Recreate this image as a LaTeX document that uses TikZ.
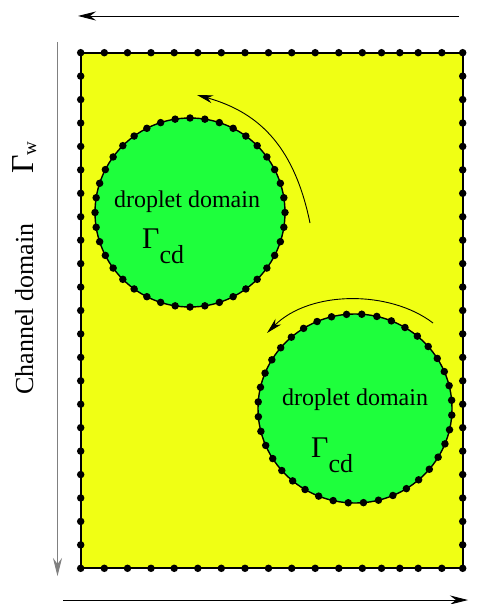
\documentclass[tikz,border=0pt]{standalone}
\usepackage{fontspec}
\setmainfont{Liberation Serif}
\usetikzlibrary{arrows.meta}
\definecolor{chanyellow}{RGB}{240,255,20}
\definecolor{dropgreen}{RGB}{30,255,60}
\definecolor{axisgray}{RGB}{128,128,128}
\tikzset{
  bdot/.style={fill=black,circle,inner sep=0pt,minimum size=7.5pt},
  flowarrow/.style={line width=0.9pt,-{Stealth[length=18pt,width=9pt,inset=6pt]}},
  swirl/.style={line width=0.9pt,-{Stealth[length=16pt,width=8pt,inset=5pt]}},
  lbl/.style={inner sep=0pt,font=\fontsize{24}{24}\selectfont},
}
\begin{document}
\begin{tikzpicture}[x=1pt,y=-1pt]
\useasboundingbox (0,0) rectangle (489,604);
% channel
\fill[chanyellow] (80.7,52.7) rectangle (462.7,568.3);
\draw[line width=2pt] (80.7,52.7) rectangle (462.7,568.3);
\foreach \x in {80.7,104.3,127.5,151,174.2,197.8,221.3,245,268.5,291.7,315.2,338.8,362.3,381.5,399.8,418.2,441.8,462.7}{
  \node[bdot] at (\x,52.7) {};
  \node[bdot] at (\x,568.3) {};
}
\foreach \k in {1,...,21}{
  \node[bdot] at (80.7,52.7+\k*23.436) {};
  \node[bdot] at (462.7,52.7+\k*23.436) {};
}
% droplets
\fill[dropgreen] (190,212.5) ellipse [x radius=95, y radius=94.5];
\draw[line width=1.4pt] (190,212.5) ellipse [x radius=95, y radius=94.5];
\fill[dropgreen] (355,408.5) ellipse [x radius=97, y radius=94.5];
\draw[line width=1.4pt] (355,408.5) ellipse [x radius=97, y radius=94.5];
\foreach \a in {0,9,...,351}{
  \node[bdot] at ({190+95*cos(\a)},{212.5+94.5*sin(\a)}) {};
  \node[bdot] at ({355+97*cos(\a+4)},{408.5+94.5*sin(\a+4)}) {};
}
% texts
\node[lbl,anchor=base] (d1) at (187,207) {droplet domain};
\node[inner sep=0pt,anchor=base west] (g1) at (142,248) {{\fontsize{30}{30}\selectfont Γ}\raisebox{-15pt}{\fontsize{26}{26}\selectfont cd}};
\node[lbl,anchor=base] (d2) at (355,405) {droplet domain};
\node[inner sep=0pt,anchor=base west] (g2) at (311,457) {{\fontsize{30}{30}\selectfont Γ}\raisebox{-15pt}{\fontsize{26}{26}\selectfont cd}};
\node[inner sep=0pt,anchor=base west,rotate=90,font=\fontsize{26}{26}\selectfont] (ch) at (33,395) {Channel domain};
\node[inner sep=0pt,anchor=base west,rotate=90] (gw) at (33,174) {{\fontsize{32}{32}\selectfont Γ}\raisebox{-3pt}{\fontsize{19}{19}\selectfont w}};
% arrows
\coordinate (ta) at (459,16);
\coordinate (tb) at (78,16);
\draw[flowarrow] (ta) -- (tb);
\coordinate (ba) at (63,600);
\coordinate (bb) at (468,600);
\draw[flowarrow] (ba) -- (bb);
\coordinate (la) at (57.5,42);
\coordinate (lb) at (57.5,576);
\draw[flowarrow,axisgray] (la) -- (lb);
\coordinate (s1a) at (310,223);
\coordinate (s1b) at (197,95);
\draw[swirl] (s1a) .. controls (295,150) and (262,113) .. (s1b);
\coordinate (s2a) at (433,323);
\coordinate (s2b) at (267,333);
\draw[swirl] (s2a) .. controls (390,290) and (310,290) .. (s2b);
\end{tikzpicture}
\end{document}
